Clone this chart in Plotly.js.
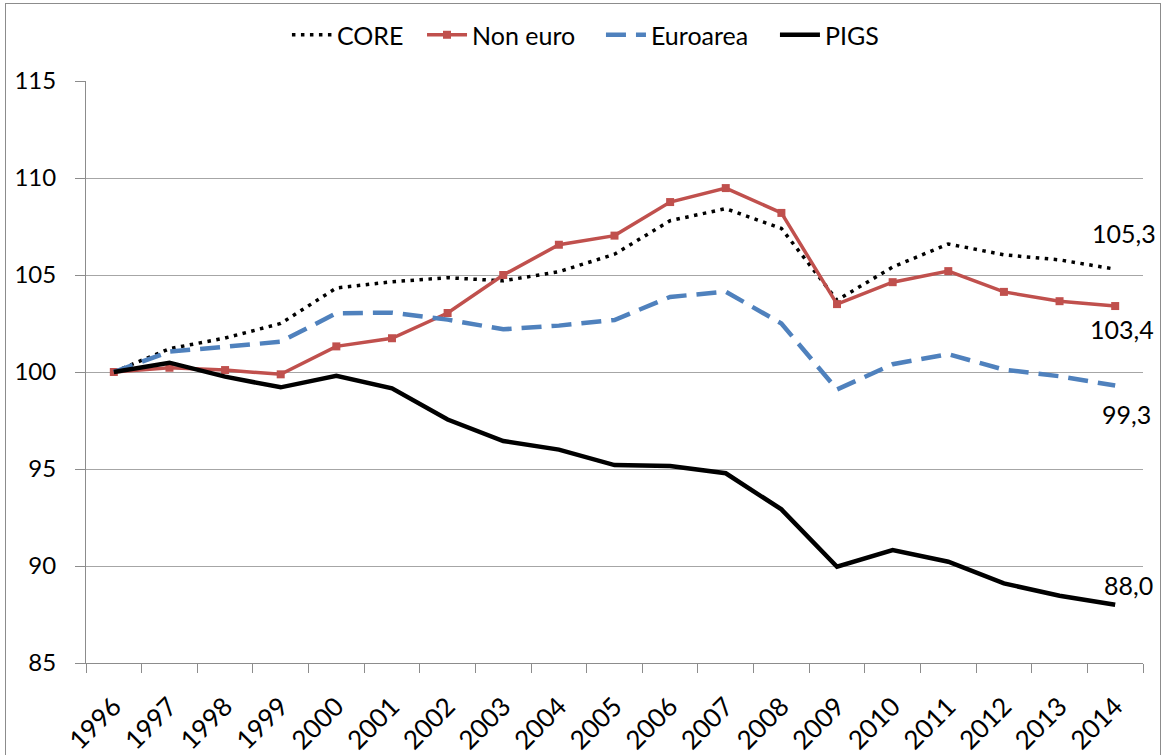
<!DOCTYPE html>
<html>
<head>
<meta charset="utf-8">
<script src="https://cdn.plot.ly/plotly-3.0.1.min.js"></script>
<style>
  html, body { margin: 0; padding: 0; background: #ffffff; }
  #wrap { position: relative; width: 1164px; height: 755px; }
  #chart { position: absolute; left: 0; top: 0; width: 1164px; height: 755px; }
  #frame { position: absolute; left: 5px; top: 3px; width: 1154px; height: 760px; border: 1px solid #8c8c8c; pointer-events: none; }
</style>
</head>
<body>
<div id="wrap">
  <div id="chart"></div>
  <div id="frame"></div>
</div>
<script>
const years = ['1996','1997','1998','1999','2000','2001','2002','2003','2004','2005','2006','2007','2008','2009','2010','2011','2012','2013','2014'];
const core     = [100.0, 101.2, 101.75, 102.5, 104.33, 104.65, 104.86, 104.7, 105.17, 106.07, 107.8, 108.42, 107.4, 103.7, 105.41, 106.6, 106.04, 105.78, 105.3];
const nonEuro  = [100.0, 100.22, 100.1, 99.88, 101.32, 101.74, 103.04, 105.0, 106.56, 107.03, 108.76, 109.48, 108.2, 103.5, 104.63, 105.2, 104.13, 103.65, 103.4];
const euroarea = [100.0, 101.05, 101.3, 101.56, 103.03, 103.06, 102.7, 102.2, 102.39, 102.68, 103.87, 104.14, 102.5, 99.1, 100.4, 100.92, 100.12, 99.78, 99.3];
const pigs     = [100.0, 100.48, 99.76, 99.21, 99.8, 99.16, 97.55, 96.44, 96.0, 95.2, 95.15, 94.78, 92.92, 89.96, 90.82, 90.22, 89.1, 88.47, 88.0];
const seriesNames = ['CORE', 'Non euro', 'Euroarea', 'PIGS'];
const yTicks = [85, 90, 95, 100, 105, 110, 115];

const FONT = 'Lato, "Open Sans", "Noto Sans", sans-serif';
const fmt = v => v.toFixed(1).replace('.', ',');

const traces = [
  { x: years, y: core, name: seriesNames[0], type: 'scatter', mode: 'lines', legend: 'legend',
    line: { color: '#000000', width: 3.5, dash: '3.5px,5.5px' } },
  { x: years, y: nonEuro, name: seriesNames[1], type: 'scatter', mode: 'lines+markers', legend: 'legend2',
    line: { color: '#C0504D', width: 3.5 },
    marker: { symbol: 'square', size: 8, color: '#C0504D' } },
  { x: years, y: euroarea, name: seriesNames[2], type: 'scatter', mode: 'lines', legend: 'legend3',
    line: { color: '#4F81BD', width: 4.5, dash: '20px,10px' } },
  { x: years, y: pigs, name: seriesNames[3], type: 'scatter', mode: 'lines', legend: 'legend4',
    line: { color: '#000000', width: 4.5 } }
];

const last = years.length - 1;
const annFont = { family: FONT, size: 25, color: '#000000' };
const annotations = [
  { x: last, y: core[last], text: fmt(core[last]), xref: 'x', yref: 'y', showarrow: false, font: annFont, xshift: 9, yshift: 36 },
  { x: last, y: nonEuro[last], text: fmt(nonEuro[last]), xref: 'x', yref: 'y', showarrow: false, font: annFont, xshift: 7, yshift: -23 },
  { x: last, y: euroarea[last], text: fmt(euroarea[last]), xref: 'x', yref: 'y', showarrow: false, font: annFont, xshift: 11, yshift: -28 },
  { x: last, y: pigs[last], text: fmt(pigs[last]), xref: 'x', yref: 'y', showarrow: false, font: annFont, xshift: 13, yshift: 20 }
];

function legendAt(xp) {
  return {
    orientation: 'h', x: xp, xanchor: 'left', y: 1.079, yanchor: 'middle',
    font: { family: FONT, size: 25, color: '#000000' },
    itemwidth: 40, bgcolor: 'rgba(0,0,0,0)', borderwidth: 0
  };
}

const layout = {
  width: 1164, height: 755,
  margin: { l: 86, r: 21, t: 81, b: 92, pad: 0 },
  paper_bgcolor: '#ffffff', plot_bgcolor: '#ffffff',
  font: { family: FONT, size: 24, color: '#000000' },
  showlegend: true,
  legend: legendAt(0.1901),
  legend2: legendAt(0.3179),
  legend3: legendAt(0.4872),
  legend4: legendAt(0.6518),
  xaxis: {
    type: 'category', range: [-0.5, years.length - 0.5],
    tickson: 'boundaries', ticks: 'outside', ticklen: 9, tickcolor: '#8c8c8c', tickwidth: 1,
    showline: true, linecolor: '#8c8c8c', linewidth: 1,
    showgrid: false, zeroline: false,
    tickangle: -45, tickfont: { family: FONT, size: 26, color: '#000000' },
    ticklabelstandoff: 17,
    automargin: false, fixedrange: true
  },
  yaxis: {
    range: [85, 115], tickmode: 'array', tickvals: yTicks, ticktext: yTicks.map(String),
    ticks: 'outside', ticklen: 10, tickcolor: '#8c8c8c', tickwidth: 1,
    showline: true, linecolor: '#8c8c8c', linewidth: 1,
    showgrid: true, gridcolor: '#a6a6a6', gridwidth: 1, zeroline: false,
    tickfont: { family: FONT, size: 24, color: '#000000' },
    ticklabelstandoff: 14,
    automargin: false, fixedrange: true
  },
  annotations: annotations
};

Plotly.newPlot('chart', traces, layout, { displayModeBar: false, staticPlot: true });
</script>
</body>
</html>
